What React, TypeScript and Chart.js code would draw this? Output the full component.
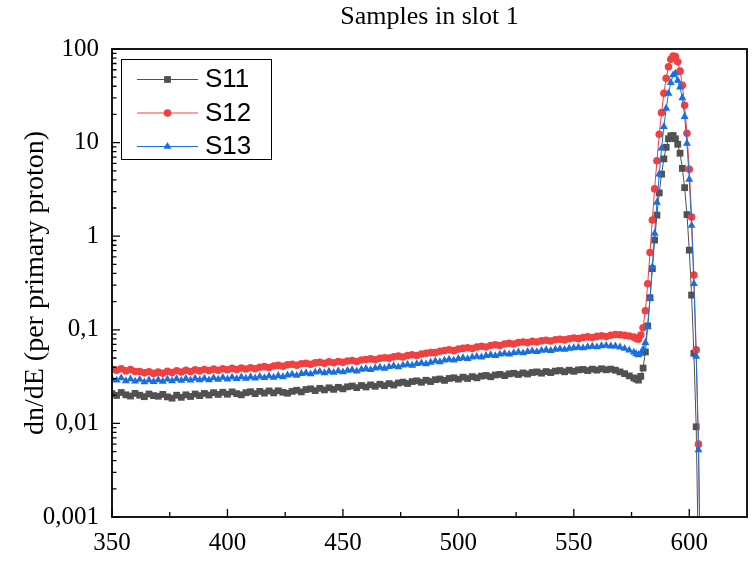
import React, { useEffect, useRef } from "react";
import { Chart, registerables } from "chart.js";

Chart.register(...registerables);

// ---- Data ----
const energy = [
  350, 352, 354, 356, 358, 360, 362, 364, 366, 368,
  370, 372, 374, 376, 378, 380, 382, 384, 386, 388,
  390, 392, 394, 396, 398, 400, 402, 404, 406, 408,
  410, 412, 414, 416, 418, 420, 422, 424, 426, 428,
  430, 432, 434, 436, 438, 440, 442, 444, 446, 448,
  450, 452, 454, 456, 458, 460, 462, 464, 466, 468,
  470, 472, 474, 476, 478, 480, 482, 484, 486, 488,
  490, 492, 494, 496, 498, 500, 502, 504, 506, 508,
  510, 512, 514, 516, 518, 520, 522, 524, 526, 528,
  530, 532, 534, 536, 538, 540, 542, 544, 546, 548,
  550, 552, 554, 556, 558, 560, 562, 564, 566, 568,
  570, 572, 574, 576,
  577, 578, 579, 580, 581, 582, 583, 584, 585, 586,
  587, 588, 589, 590, 591, 592, 593, 594, 595, 596,
  597, 598, 599, 600, 601, 602, 603, 604, 605,
];

const s11 = [
  0.0208, 0.0199, 0.0214, 0.0202, 0.0196, 0.0209, 0.0200, 0.0193, 0.0206, 0.0198,
  0.0195, 0.0204, 0.0192, 0.0186, 0.0200, 0.0190, 0.0202, 0.0194, 0.0206, 0.0198,
  0.0209, 0.0201, 0.0213, 0.0204, 0.0215, 0.0205, 0.0217, 0.0208, 0.0202, 0.0213,
  0.0218, 0.0208, 0.0220, 0.0211, 0.0222, 0.0212, 0.0223, 0.0215, 0.0210, 0.0220,
  0.0226, 0.0217, 0.0230, 0.0234, 0.0224, 0.0237, 0.0228, 0.0240, 0.0231, 0.0243,
  0.0234, 0.0246, 0.0251, 0.0241, 0.0254, 0.0245, 0.0258, 0.0249, 0.0262, 0.0253,
  0.0266, 0.0257, 0.0270, 0.0276, 0.0267, 0.0280, 0.0285, 0.0275, 0.0289, 0.0280,
  0.0293, 0.0298, 0.0288, 0.0302, 0.0307, 0.0297, 0.0312, 0.0302, 0.0316, 0.0307,
  0.0320, 0.0325, 0.0315, 0.0329, 0.0334, 0.0324, 0.0338, 0.0343, 0.0333, 0.0346,
  0.0337, 0.0350, 0.0355, 0.0344, 0.0358, 0.0349, 0.0362, 0.0367, 0.0356, 0.0370,
  0.0360, 0.0373, 0.0377, 0.0367, 0.0380, 0.0371, 0.0383, 0.0374, 0.0380, 0.0370,
  0.0355, 0.0340, 0.0322, 0.0306,
  0.0298, 0.0290, 0.0318, 0.039, 0.058, 0.11, 0.22, 0.45, 0.91, 1.68,
  2.9, 4.6, 6.7, 8.9, 11, 11.8, 11.9, 11, 9.6, 7.7,
  5.3, 3.3, 1.7, 0.71, 0.235, 0.056, 0.0092, 0.0003, 0.00005,
];

const s12 = [
  0.0378, 0.0370, 0.0383, 0.0364, 0.0377, 0.0359, 0.0358, 0.0347, 0.0356, 0.0342,
  0.0353, 0.0344, 0.0360, 0.0349, 0.0365, 0.0354, 0.0369, 0.0358, 0.0373, 0.0364,
  0.0376, 0.0367, 0.0380, 0.0370, 0.0383, 0.0374, 0.0387, 0.0377, 0.0390, 0.0381,
  0.0393, 0.0384, 0.0398, 0.0404, 0.0395, 0.0411, 0.0417, 0.0408, 0.0423, 0.0428,
  0.0418, 0.0433, 0.0438, 0.0428, 0.0443, 0.0449, 0.0438, 0.0454, 0.0444, 0.0459,
  0.0449, 0.0464, 0.0470, 0.0459, 0.0475, 0.0482, 0.0489, 0.0479, 0.0496, 0.0503,
  0.0498, 0.0514, 0.0523, 0.0512, 0.0532, 0.0541, 0.0531, 0.0551, 0.0560, 0.0570,
  0.0570, 0.0590, 0.0600, 0.0611, 0.0599, 0.0622, 0.0633, 0.0643, 0.0631, 0.0654,
  0.0667, 0.0655, 0.0680, 0.0692, 0.0680, 0.0705, 0.0718, 0.0706, 0.0730, 0.0741,
  0.0729, 0.0752, 0.0740, 0.0762, 0.0773, 0.0760, 0.0783, 0.0792, 0.0780, 0.0802,
  0.0817, 0.0804, 0.0828, 0.0840, 0.0827, 0.0850, 0.0862, 0.0849, 0.0874, 0.0890,
  0.0884, 0.0872, 0.0858, 0.0835,
  0.0808, 0.0795, 0.0880, 0.105, 0.16, 0.31, 0.67, 1.49, 3.2, 6.4,
  12.3, 20.9, 33.6, 48.6, 64.7, 77.6, 84, 83, 73, 58,
  41, 25, 12.6, 5.2, 1.6, 0.385, 0.061, 0.006, 0.0001,
];

const s13 = [
  0.0298, 0.0289, 0.0305, 0.0285, 0.0298, 0.0282, 0.0294, 0.0277, 0.0290, 0.0279,
  0.0292, 0.0281, 0.0296, 0.0284, 0.0299, 0.0287, 0.0301, 0.0289, 0.0303, 0.0292,
  0.0302, 0.0291, 0.0306, 0.0295, 0.0309, 0.0297, 0.0311, 0.0300, 0.0313, 0.0302,
  0.0314, 0.0304, 0.0317, 0.0307, 0.0321, 0.0310, 0.0324, 0.0314, 0.0328, 0.0335,
  0.0325, 0.0340, 0.0347, 0.0337, 0.0352, 0.0358, 0.0347, 0.0360, 0.0350, 0.0363,
  0.0354, 0.0367, 0.0373, 0.0362, 0.0377, 0.0384, 0.0374, 0.0390, 0.0397, 0.0387,
  0.0403, 0.0411, 0.0400, 0.0418, 0.0426, 0.0416, 0.0434, 0.0442, 0.0432, 0.0449,
  0.0464, 0.0454, 0.0473, 0.0482, 0.0472, 0.0492, 0.0501, 0.0490, 0.0510, 0.0518,
  0.0510, 0.0530, 0.0539, 0.0528, 0.0548, 0.0558, 0.0547, 0.0567, 0.0576, 0.0565,
  0.0584, 0.0593, 0.0582, 0.0601, 0.0609, 0.0598, 0.0617, 0.0625, 0.0615, 0.0633,
  0.0640, 0.0648, 0.0638, 0.0657, 0.0664, 0.0654, 0.0672, 0.0679, 0.0669, 0.0668,
  0.0652, 0.0631, 0.0604, 0.0575,
  0.0552, 0.0540, 0.0558, 0.062, 0.073, 0.108, 0.217, 0.47, 1.07, 2.3,
  4.6, 8.7, 14.8, 23.2, 33.6, 43.7, 52.7, 55, 46, 39,
  30, 18.9, 9.8, 4.05, 1.3, 0.31, 0.052, 0.0052, 0.0001,
];

const seriesNames = ["S11", "S12", "S13"];
const seriesColors = ["#515151", "#F14040", "#1A6FDF"];
const xMajorTicks = [350, 400, 450, 500, 550, 600];
const xMinorTicks = [375, 425, 475, 525, 575];
const yMajorTicks = [0.001, 0.01, 0.1, 1, 10, 100];
const xMin = 350;
const xMax = 625;
const yMin = 0.001;
const yMax = 100;
const titleText = "Samples in slot 1";
const yTitleText = "dn/dE (per primary proton)";

const SERIF = "'Liberation Serif', 'Times New Roman', serif";
const SANS = "'Liberation Sans', Arial, sans-serif";

const pointStyles = ["rect", "circle", "triangle"];
const pointSizes = [4.8, 3.8, 4.6];

function drawMarker(ctx: CanvasRenderingContext2D, style: string, x: number, y: number, color: string, r: number) {
  ctx.fillStyle = color;
  ctx.beginPath();
  if (style === "rect") {
    const h = r * Math.SQRT1_2;
    ctx.rect(x - h, y - h, 2 * h, 2 * h);
  } else if (style === "circle") {
    ctx.arc(x, y, r, 0, Math.PI * 2);
  } else {
    let a = 0;
    ctx.moveTo(x + Math.sin(a) * r, y - Math.cos(a) * r);
    a += (2 * Math.PI) / 3;
    ctx.lineTo(x + Math.sin(a) * r, y - Math.cos(a) * r);
    a += (2 * Math.PI) / 3;
    ctx.lineTo(x + Math.sin(a) * r, y - Math.cos(a) * r);
    ctx.closePath();
  }
  ctx.fill();
}

const framePlugin = {
  id: "frameTicksLegend",
  afterDraw(chart: any) {
    const { ctx, chartArea } = chart;
    const { left, right, top, bottom } = chartArea;
    const xs = chart.scales.x;
    const ys = chart.scales.y;
    ctx.save();

    // title centred over the plot area
    ctx.fillStyle = "#000";
    ctx.font = `26px ${SERIF}`;
    ctx.textAlign = "center";
    ctx.textBaseline = "middle";
    ctx.fillText(titleText, (left + right) / 2, 17);

    ctx.strokeStyle = "#000";
    ctx.lineWidth = 1.3;
    ctx.beginPath();
    for (const v of xMajorTicks) {
      const px = xs.getPixelForValue(v);
      ctx.moveTo(px, bottom);
      ctx.lineTo(px, bottom - 8);
    }
    for (const v of xMinorTicks) {
      const px = xs.getPixelForValue(v);
      ctx.moveTo(px, bottom);
      ctx.lineTo(px, bottom - 5);
    }
    for (const v of yMajorTicks) {
      const py = ys.getPixelForValue(v);
      ctx.moveTo(left, py);
      ctx.lineTo(left + 8, py);
    }
    for (let i = 0; i < yMajorTicks.length - 1; i++) {
      for (let m = 2; m <= 9; m++) {
        const py = ys.getPixelForValue(yMajorTicks[i] * m);
        ctx.moveTo(left, py);
        ctx.lineTo(left + 4.5, py);
      }
    }
    ctx.stroke();

    ctx.lineWidth = 1.8;
    ctx.strokeRect(left, top, right - left, bottom - top);

    // legend
    const bx = 121.5, by = 59.5, bw = 150, bh = 100;
    ctx.fillStyle = "#fff";
    ctx.fillRect(bx, by, bw, bh);
    ctx.lineWidth = 1;
    ctx.strokeStyle = "#000";
    ctx.strokeRect(bx, by, bw, bh);
    const rows = [79, 112.5, 146];
    for (let i = 0; i < seriesNames.length; i++) {
      const y = rows[i];
      ctx.strokeStyle = seriesColors[i];
      ctx.lineWidth = 1;
      ctx.beginPath();
      ctx.moveTo(137, y + 0.5);
      ctx.lineTo(198, y + 0.5);
      ctx.stroke();
      drawMarker(ctx, pointStyles[i], 167.5, y + 0.5, seriesColors[i], pointSizes[i]);
      ctx.fillStyle = "#000";
      ctx.font = `26px ${SANS}`;
      ctx.textAlign = "left";
      ctx.textBaseline = "middle";
      ctx.fillText(seriesNames[i], 205, y + 1);
    }
    ctx.restore();
  },
};

export default function App() {
  const canvasRef = useRef<HTMLCanvasElement | null>(null);

  useEffect(() => {
    const canvas = canvasRef.current;
    if (!canvas) return;
    const makeData = (vals: number[]) => energy.map((e, i) => ({ x: e, y: vals[i] }));
    const allSeries = [s11, s12, s13];
    const chart = new Chart(canvas, {
      type: "line",
      data: {
        datasets: allSeries.map((vals, i) => ({
          label: seriesNames[i],
          data: makeData(vals),
          borderColor: seriesColors[i],
          backgroundColor: seriesColors[i],
          borderWidth: 1,
          pointStyle: pointStyles[i] as any,
          pointRadius: pointSizes[i],
          pointBackgroundColor: seriesColors[i],
          pointBorderColor: seriesColors[i],
          pointBorderWidth: 0,
          tension: 0,
          fill: false,
          order: 2 - i,
        })),
      },
      options: {
        responsive: true,
        maintainAspectRatio: false,
        animation: false,
        devicePixelRatio: 1,
        layout: { padding: { left: 0, right: 9, top: 49, bottom: 0 } },
        plugins: {
          legend: { display: false },
          tooltip: { enabled: false },
          title: { display: false },
        },
        scales: {
          x: {
            type: "linear",
            min: xMin,
            max: xMax,
            afterBuildTicks: (s: any) => {
              s.ticks = xMajorTicks.map((v) => ({ value: v }));
            },
            afterFit: (s: any) => {
              s.height = 46;
            },
            grid: { display: false },
            border: { display: false },
            ticks: {
              color: "#000",
              font: { family: SERIF, size: 25 },
              padding: 3,
              autoSkip: false,
              maxRotation: 0,
            },
          },
          y: {
            type: "logarithmic",
            min: yMin,
            max: yMax,
            afterBuildTicks: (s: any) => {
              s.ticks = yMajorTicks.map((v) => ({ value: v }));
            },
            afterFit: (s: any) => {
              s.width = 112;
            },
            grid: { display: false },
            border: { display: false },
            ticks: {
              color: "#000",
              font: { family: SERIF, size: 25 },
              padding: 5,
              callback: (v: any) => String(v).replace(".", ","),
            },
            title: {
              display: true,
              text: yTitleText,
              color: "#000",
              font: { family: SERIF, size: 28 },
              padding: { top: 19, bottom: 0 },
            },
          },
        },
      },
      plugins: [framePlugin],
    });
    return () => chart.destroy();
  }, []);

  return (
    <div style={{ position: "fixed", left: 0, top: 0, width: 756, height: 563, background: "#fff" }}>
      <canvas ref={canvasRef} />
    </div>
  );
}
